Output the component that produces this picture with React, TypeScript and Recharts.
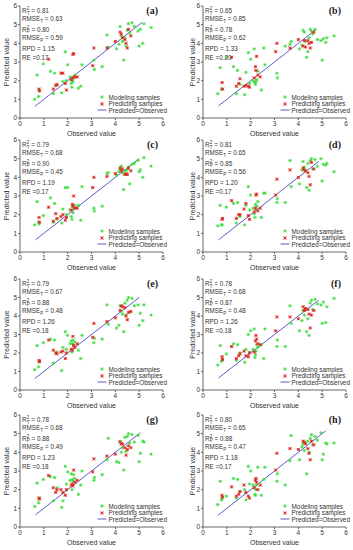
import React from 'react';
import { ScatterChart, Scatter, XAxis, YAxis, ReferenceLine } from 'recharts';

const panelLabels = ['(a)', '(b)', '(c)', '(d)', '(e)', '(f)', '(g)', '(h)'];
const r2Train = ['0.81', '0.65', '0.79', '0.81', '0.79', '0.78', '0.78', '0.80'];
const rmseTrain = ['0.63', '0.85', '0.68', '0.65', '0.67', '0.68', '0.68', '0.65'];
const r2Pred = ['0.80', '0.78', '0.90', '0.85', '0.88', '0.87', '0.88', '0.88'];
const rmsePred = ['0.59', '0.62', '0.45', '0.56', '0.48', '0.48', '0.49', '0.47'];
const rpdValues = ['1.15', '1.33', '1.19', '1.20', '1.26', '1.26', '1.23', '1.18'];
const reValues = ['0.17', '0.20', '0.17', '0.17', '0.18', '0.18', '0.18', '0.17'];
const axisTicks = [0, 1, 2, 3, 4, 5, 6];

// observed values of the samples (same samples in every panel)
const modelingObserved = [0.62, 0.72, 0.78, 0.8, 0.98, 1.28, 1.4, 1.45, 1.55, 1.75, 1.8, 1.9, 1.95, 2.0, 2.1, 2.15, 2.18, 2.2, 2.22, 2.25, 2.3, 2.45, 2.55, 2.6, 3.1, 3.12, 3.45, 3.65, 3.7, 4.05, 4.15, 4.2, 4.25, 4.3, 4.35, 4.4, 4.45, 4.5, 4.55, 4.6, 4.7, 4.8, 4.95, 5.0, 5.05, 5.15, 5.2, 5.5];
const predictingObserved = [0.8, 0.82, 1.2, 1.4, 1.5, 1.55, 1.72, 1.8, 1.9, 1.95, 2.15, 2.2, 2.22, 2.25, 2.3, 2.4, 3.05, 3.1, 3.65, 4.0, 4.2, 4.25, 4.3, 4.4, 4.45, 4.5, 4.55, 4.65];

// predicted values, one row per panel
const modelingPredicted = [
  [1.0, 2.3, 1.15, 1.5, 2.9, 2.5, 1.3, 2.4, 1.75, 1.35, 1.95, 3.55, 2.0, 2.85, 2.2, 1.85, 1.65, 2.0, 1.95, 2.15, 2.3, 1.6, 1.7, 2.85, 3.1, 2.6, 2.75, 4.45, 3.8, 3.7, 3.95, 4.9, 4.4, 4.1, 3.1, 4.3, 3.85, 4.7, 5.05, 4.55, 5.1, 4.9, 4.65, 3.85, 4.75, 4.0, 5.05, 4.85],
  [1.3, 2.7, 1.55, 1.55, 3.25, 2.75, 1.3, 2.55, 1.8, 1.25, 2.45, 3.5, 1.85, 3.15, 2.0, 3.7, 1.9, 1.8, 1.95, 2.05, 2.5, 1.5, 3.75, 2.85, 2.4, 2.15, 3.85, 3.95, 4.1, 3.7, 3.9, 4.7, 4.6, 4.1, 3.25, 3.55, 4.3, 4.75, 4.65, 4.5, 4.75, 4.2, 4.15, 3.1, 4.25, 4.05, 4.3, 4.4],
  [1.45, 2.7, 1.6, 1.5, 1.95, 2.9, 1.6, 2.6, 1.75, 1.55, 2.3, 3.45, 2.0, 3.45, 2.25, 1.9, 1.75, 2.45, 2.1, 2.35, 2.5, 2.5, 1.7, 3.5, 2.35, 2.2, 2.45, 4.2, 4.25, 4.1, 4.3, 4.45, 4.6, 4.25, 3.35, 4.35, 4.15, 4.4, 4.55, 3.65, 4.7, 4.75, 4.9, 4.3, 4.4, 4.0, 5.05, 4.6],
  [1.4, 2.5, 1.45, 1.45, 2.4, 2.6, 1.55, 2.65, 1.9, 1.45, 2.5, 3.5, 2.25, 3.05, 2.35, 2.05, 1.85, 2.55, 2.3, 2.45, 2.7, 1.85, 3.15, 3.15, 2.65, 2.85, 2.65, 4.9, 3.5, 3.65, 4.4, 4.85, 4.55, 4.35, 3.45, 4.75, 3.3, 4.9, 5.0, 4.45, 4.95, 4.6, 5.0, 3.8, 4.7, 4.65, 4.75, 4.3],
  [1.1, 2.4, 1.25, 1.5, 2.55, 2.75, 1.45, 2.7, 2.05, 1.05, 2.3, 3.15, 2.2, 2.95, 2.5, 2.65, 2.05, 2.5, 2.7, 2.45, 2.6, 2.15, 1.7, 2.95, 2.55, 2.8, 2.75, 4.6, 3.55, 3.35, 3.5, 4.55, 4.25, 4.1, 3.15, 4.7, 4.05, 4.85, 5.0, 4.2, 4.95, 4.55, 4.6, 3.5, 4.15, 3.75, 4.6, 4.05],
  [1.35, 2.4, 1.55, 1.6, 1.95, 2.5, 1.6, 2.45, 2.0, 1.5, 2.2, 3.0, 2.05, 3.2, 2.2, 3.3, 1.75, 1.9, 2.1, 2.45, 2.3, 2.45, 1.7, 3.3, 2.35, 2.7, 2.35, 4.55, 3.6, 3.2, 3.75, 4.3, 4.05, 4.4, 3.15, 3.85, 2.95, 4.7, 4.85, 4.35, 4.9, 4.65, 4.6, 3.6, 4.75, 3.65, 4.5, 4.95],
  [1.1, 2.35, 1.3, 1.55, 2.55, 2.7, 1.4, 2.65, 2.1, 1.05, 1.4, 3.25, 2.3, 2.95, 2.5, 2.85, 2.0, 2.55, 2.45, 2.8, 2.6, 1.75, 2.25, 3.0, 2.5, 2.65, 2.8, 3.6, 4.75, 3.5, 3.45, 4.6, 4.0, 4.25, 3.05, 4.8, 4.05, 4.85, 5.0, 4.5, 4.95, 4.55, 4.9, 3.5, 3.95, 4.6, 4.55, 3.9],
  [1.2, 2.45, 1.45, 1.55, 1.65, 2.6, 1.55, 2.55, 1.9, 2.0, 1.45, 3.25, 2.3, 3.0, 2.25, 2.1, 1.75, 1.7, 2.0, 2.25, 3.2, 1.7, 2.55, 3.2, 2.45, 2.85, 2.25, 3.55, 4.9, 3.6, 4.3, 4.45, 4.1, 4.5, 2.85, 4.6, 4.0, 4.75, 4.95, 4.4, 4.85, 4.65, 5.05, 3.6, 3.9, 4.5, 4.45, 4.5],
];
const predictingPredicted = [
  [1.55, 1.45, 3.15, 1.55, 1.75, 1.8, 2.4, 2.4, 1.85, 1.5, 2.05, 2.15, 3.4, 3.45, 2.2, 2.2, 2.8, 3.75, 3.75, 4.1, 4.6, 4.5, 4.3, 4.2, 4.0, 3.75, 4.75, 4.4],
  [1.9, 1.55, 3.25, 1.7, 1.85, 2.1, 1.7, 1.75, 1.7, 1.65, 2.15, 2.75, 2.55, 3.3, 2.3, 2.2, 3.55, 4.0, 3.75, 4.2, 3.85, 4.15, 3.8, 4.15, 4.0, 3.75, 4.05, 4.6],
  [1.85, 1.6, 2.4, 1.65, 2.05, 1.8, 1.9, 2.0, 1.7, 1.85, 2.25, 2.55, 2.45, 3.0, 2.35, 2.35, 3.45, 4.0, 4.05, 4.2, 4.5, 4.35, 4.45, 4.15, 4.2, 4.15, 4.5, 4.35],
  [1.75, 1.8, 2.75, 1.8, 2.0, 2.0, 2.3, 2.6, 1.95, 1.75, 2.15, 2.35, 3.05, 3.1, 2.2, 2.35, 3.05, 3.9, 4.4, 4.0, 4.5, 4.4, 4.35, 4.25, 4.05, 3.6, 4.8, 4.45],
  [1.6, 1.55, 2.7, 2.15, 2.0, 1.95, 2.05, 2.1, 1.7, 2.0, 2.2, 2.15, 2.9, 2.4, 2.3, 2.5, 2.85, 3.6, 3.7, 3.9, 4.3, 4.55, 4.5, 4.45, 4.0, 3.8, 4.2, 4.25],
  [1.8, 1.65, 2.35, 1.7, 1.85, 1.95, 2.1, 1.85, 1.8, 2.0, 2.05, 2.65, 2.95, 2.75, 2.5, 2.45, 3.2, 3.95, 3.95, 3.85, 4.5, 4.3, 4.4, 4.35, 4.1, 3.35, 4.05, 4.3],
  [1.55, 1.5, 2.75, 2.1, 1.85, 2.0, 2.0, 1.85, 1.7, 2.0, 2.25, 2.3, 2.2, 3.05, 2.4, 2.5, 2.95, 3.65, 3.8, 3.9, 4.55, 4.45, 4.45, 4.25, 3.85, 4.15, 4.35, 4.25],
  [1.7, 1.6, 2.15, 1.65, 1.75, 1.9, 2.25, 1.85, 1.65, 1.55, 2.1, 2.5, 2.6, 2.4, 2.0, 2.25, 3.05, 3.95, 4.2, 4.15, 4.6, 4.55, 4.45, 4.2, 3.95, 3.6, 4.6, 4.4],
];
// ends of the Predicted=Observed line
const lineStart = [0.62, 0.65, 0.65, 0.65, 0.62, 0.65, 0.65, 0.62];
const lineEnd = [5.12, 4.7, 5.0, 4.85, 5.0, 4.85, 5.05, 5.15];

const SANS = '"Liberation Sans", Arial, sans-serif';
const GREEN = '#3cdc3c';
const RED = '#dc2c26';
const BLUE = '#5b5fc7';
const ROW_TOPS = [0, 134, 273, 409];
const ROW_PLOT_H = [112, 112, 111, 112];

const GreenStar = (props: any) => {
  const { cx, cy } = props;
  const r = 1.7;
  return (
    <g stroke={GREEN} strokeWidth={0.8}>
      <line x1={cx - r} y1={cy} x2={cx + r} y2={cy} />
      <line x1={cx} y1={cy - r} x2={cx} y2={cy + r} />
      <line x1={cx - r * 0.7} y1={cy - r * 0.7} x2={cx + r * 0.7} y2={cy + r * 0.7} />
      <line x1={cx - r * 0.7} y1={cy + r * 0.7} x2={cx + r * 0.7} y2={cy - r * 0.7} />
    </g>
  );
};

const RedStar = (props: any) => {
  const { cx, cy } = props;
  const r = 1.5;
  return (
    <g stroke={RED} strokeWidth={0.9}>
      <line x1={cx - r} y1={cy - r} x2={cx + r} y2={cy + r} />
      <line x1={cx - r} y1={cy + r} x2={cx + r} y2={cy - r} />
      <line x1={cx - r} y1={cy} x2={cx + r} y2={cy} />
      <line x1={cx} y1={cy - r} x2={cx} y2={cy + r} />
    </g>
  );
};

const Stacked = ({ sub }: { sub: string }) => (
  <span style={{ display: 'inline-flex', flexDirection: 'column', fontSize: 4.5, lineHeight: '4.5px', verticalAlign: 'middle', marginLeft: 0.3 }}>
    <span>2</span>
    <span>{sub}</span>
  </span>
);

function Panel({ index }: { index: number }) {
  const col = index % 2;
  const row = Math.floor(index / 2);
  const left = col === 0 ? 0 : 176;
  const width = col === 0 ? 176 : 177;
  const mLeft = col === 0 ? 0 : 7;
  const mRight = col === 0 ? 13 : 7;
  const plotH = ROW_PLOT_H[row];
  const height = 6 + plotH + 18;
  const plotLeft = mLeft + 20;
  const plotRight = width - mRight;
  const plotTop = 6;

  const modeling = modelingObserved.map((x, i) => ({ x, y: modelingPredicted[index][i] }));
  const predicting = predictingObserved.map((x, i) => ({ x, y: predictingPredicted[index][i] }));

  const statLines = [
    <span>R<Stacked sub="T" /> = {r2Train[index]}</span>,
    <span>RMSE<sub style={{ fontSize: 4.5 }}>T</sub> = {rmseTrain[index]}</span>,
    <span>R<Stacked sub="P" /> = {r2Pred[index]}</span>,
    <span>RMSE<sub style={{ fontSize: 4.5 }}>P</sub> = {rmsePred[index]}</span>,
    <span>RPD = {rpdValues[index]}</span>,
    <span>RE ={reValues[index]}</span>,
  ];
  const statY = [5.7, 14.7, 24, 33.5, 43, 51.5];

  const legendItems = [
    { text: 'Modeling samples', kind: 'g' },
    { text: 'Predicting samples', kind: 'r' },
    { text: 'Predicted=Observed', kind: 'l' },
  ];
  const legendY = [-21, -14.5, -8];

  return (
    <div style={{ position: 'absolute', left, top: ROW_TOPS[row], width, height }}>
      <ScatterChart width={width} height={height} margin={{ top: plotTop, right: mRight, left: mLeft, bottom: 0 }}>
        <XAxis
          type="number"
          dataKey="x"
          domain={[0, 6]}
          ticks={axisTicks}
          height={18}
          tickSize={2}
          tickMargin={1}
          stroke="#666"
          tick={{ fontSize: 6.5, fill: '#333', fontFamily: SANS }}
          label={{ value: 'Observed value', position: 'insideBottom', offset: 0, style: { fontSize: 7, fill: '#333', fontFamily: SANS } }}
        />
        <YAxis
          type="number"
          dataKey="y"
          domain={[0, 6]}
          ticks={axisTicks}
          width={20}
          tickSize={2}
          tickMargin={1}
          stroke="#666"
          tick={{ fontSize: 6.5, fill: '#333', fontFamily: SANS }}
          label={{ value: 'Predicted value', angle: -90, position: 'insideLeft', offset: col === 0 ? 7 : 10, style: { textAnchor: 'middle', fontSize: 7, fill: '#333', fontFamily: SANS } }}
        />
        <Scatter data={modeling} shape={GreenStar} isAnimationActive={false} />
        <Scatter data={predicting} shape={RedStar} isAnimationActive={false} />
        <ReferenceLine
          segment={[{ x: lineStart[index], y: lineStart[index] }, { x: lineEnd[index], y: lineEnd[index] }]}
          stroke={BLUE}
          strokeWidth={1}
        />
      </ScatterChart>

      {statLines.map((content, i) => (
        <div
          key={i}
          style={{ position: 'absolute', left: plotLeft + 2, top: plotTop + statY[i] - 4, height: 8, lineHeight: '8px', fontSize: 6.3, fontFamily: SANS, color: '#333', whiteSpace: 'nowrap', display: 'flex', alignItems: 'center' }}
        >
          {content}
        </div>
      ))}

      <div
        style={{ position: 'absolute', right: width - plotRight + 5, top: plotTop - 1, fontSize: 10, fontWeight: 'bold', fontFamily: '"Liberation Serif", "Times New Roman", serif', color: '#222', lineHeight: '12px' }}
      >
        {panelLabels[index]}
      </div>

      {legendItems.map((item, i) => (
        <div
          key={item.text}
          style={{ position: 'absolute', left: plotLeft + 77, top: plotTop + plotH + legendY[i] - 4, height: 8, display: 'flex', alignItems: 'center', fontSize: 6.4, fontFamily: SANS, color: '#333', whiteSpace: 'nowrap' }}
        >
          <svg width={10} height={8} style={{ marginRight: 1.5 }}>
            {item.kind === 'g' && <GreenStar cx={5} cy={4} />}
            {item.kind === 'r' && <RedStar cx={5} cy={4} />}
            {item.kind === 'l' && <line x1={0.5} y1={4} x2={9.5} y2={4} stroke={BLUE} strokeWidth={1} />}
          </svg>
          {item.text}
        </div>
      ))}
    </div>
  );
}

export default function App() {
  return (
    <div style={{ position: 'absolute', left: 0, top: 0, width: 353, height: 550, background: '#fff', overflow: 'hidden' }}>
      {panelLabels.map((_, i) => (
        <Panel key={i} index={i} />
      ))}
    </div>
  );
}
